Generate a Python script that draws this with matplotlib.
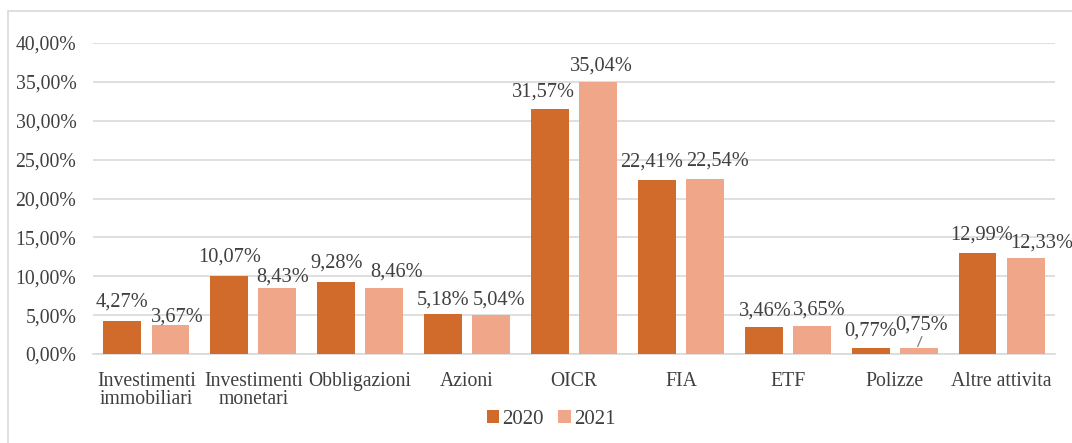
import matplotlib.pyplot as plt
from matplotlib.patches import Rectangle
import numpy as np

# Categorie e valori (%)
categories = ["Investimenti\nimmobiliari", "Investimenti\nmonetari", "Obbligazioni", "Azioni",
              "OICR", "FIA", "ETF", "Polizze", "Altre attivita"]
val_2020 = [4.27, 10.07, 9.28, 5.18, 31.57, 22.41, 3.46, 0.77, 12.99]
val_2021 = [3.67, 8.43, 8.46, 5.04, 35.04, 22.54, 3.65, 0.75, 12.33]
y_ticks = [0, 5, 10, 15, 20, 25, 30, 35, 40]

c2020 = "#D06B2B"
c2021 = "#F0A688"
txt = "#404040"

plt.rcParams['font.family'] = ['Liberation Serif', 'DejaVu Serif']

fig = plt.figure(figsize=(10.72, 4.43), dpi=100)
ax = fig.add_axes([93 / 1072, 1 - 354 / 443, (1055 - 93) / 1072, (354 - 43) / 443])

# cornice grigia esterna
fig.patches.append(Rectangle((8 / 1072, -0.1), 1.2, 1 - 11 / 443 + 0.1, transform=fig.transFigure,
                             fill=False, edgecolor="#D9D9D9", linewidth=1.2))

x = np.arange(len(categories))
w = 0.355
off = 0.225
b1 = ax.bar(x - off, val_2020, w, color=c2020, label="2020", zorder=3)
b2 = ax.bar(x + off, val_2021, w, color=c2021, label="2021", zorder=3)

def fmt(v):
    return f"{v:.2f}".replace(".", ",") + "%"

# spostamenti etichette (pixel)
dx_2020 = [0, 0, 0, 0, -7, -5, 2, 0, 4]
dx_2021 = [7, 5, 12, 8, 3, 13, 7, 3, 16]
dy_2020 = [14, 14, 14, 9, 12, 13, 12, 12, 13]
dy_2021 = [4, 7, 12, 10, 11, 13, 11, 19, 11]

for bars, vals, dxs, dys in [(b1, val_2020, dx_2020, dy_2020), (b2, val_2021, dx_2021, dy_2021)]:
    for bar, v, dx, dy in zip(bars, vals, dxs, dys):
        cx = bar.get_x() + bar.get_width() / 2
        ax.annotate(fmt(v), (cx, v), xytext=(dx, dy), textcoords="offset pixels",
                    ha="center", va="baseline", fontsize=14.7, color=txt, annotation_clip=False)

# linea guida per 0,75%
cx7 = b2[7].get_x() + b2[7].get_width() / 2
ax.annotate("", xy=(cx7 - 0.01, val_2021[7] + 0.2), xytext=(cx7 + 0.03, val_2021[7] + 1.5),
            arrowprops=dict(arrowstyle="-", color="#7F7F7F", lw=0.9, shrinkA=0, shrinkB=0))

ax.set_ylim(0, 40)
ax.set_xlim(-0.5, len(categories) - 0.5)
ax.set_yticks(y_ticks)
ax.set_yticklabels([f"{t:.2f}".replace(".", ",") + "%" for t in y_ticks])
ax.set_xticks(x)
ax.set_xticklabels(categories, linespacing=0.95)
ax.tick_params(axis="both", length=0, labelsize=14.2, colors=txt)
ax.tick_params(axis="x", pad=13)
ax.tick_params(axis="y", pad=12)
ax.grid(axis="y", color="#D9D9D9", linewidth=1.2, zorder=0)
for s in ["top", "right", "left"]:
    ax.spines[s].set_visible(False)
ax.spines["bottom"].set_color("#D9D9D9")
ax.spines["bottom"].set_linewidth(1.2)

fig.legend(handles=[b1, b2], labels=["2020", "2021"], loc="center", bbox_to_anchor=(551 / 1072, 1 - 419 / 443),
           ncol=2, frameon=False, fontsize=15, handlelength=0.6, handleheight=0.6,
           handletextpad=0.15, columnspacing=0.7, labelcolor=txt)

fig.savefig("out.png", dpi=100)
